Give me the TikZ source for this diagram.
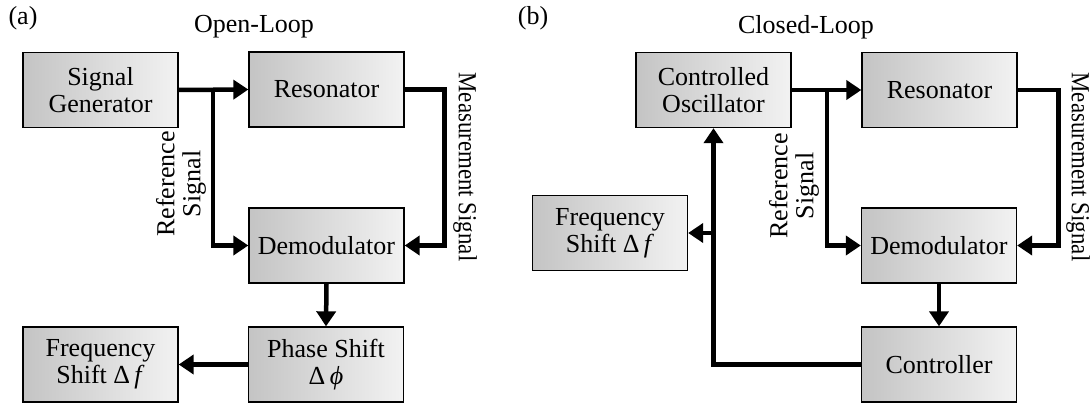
\documentclass[tikz,border=0pt]{standalone}
\usepackage{fontspec}
\setmainfont{Liberation Serif}
\usetikzlibrary{arrows.meta,calc}
\definecolor{boxL}{RGB}{196,196,196}
\definecolor{boxR}{RGB}{242,242,242}
\tikzset{
  blk/.style={draw=black, line width=1.3pt, left color=boxL, right color=boxR,
    minimum width=155pt, minimum height=75pt, inner sep=0pt, align=center,
    font=\fontsize{26}{27}\selectfont},
  wire/.style={line width=4.5pt, line cap=butt, line join=miter},
  arr/.style={wire, -{Triangle[length=15pt,width=19pt]}},
  lbl/.style={font=\fontsize{26}{26}\selectfont, align=center, inner sep=0pt},
  meas/.style={lbl, rotate=-90, xscale=0.88},
}
\begin{document}
\begin{tikzpicture}[x=1pt,y=-1pt]
\useasboundingbox (0,0) rectangle (1092,403);
% titles
\node[lbl] (ta) at (23,18) {(a)};
\node[lbl] (tta) at (254,27) {Open-Loop};
\node[lbl] (tb) at (533,18) {(b)};
\node[lbl] (ttb) at (806,27) {Closed-Loop};
% panel a
\node[blk] (sga) at (100.5,90) {Signal\\Generator};
\node[blk] (resa) at (326.5,89.5) {Resonator};
\node[blk] (dema) at (326.5,245.5) {Demodulator};
\node[blk] (psa) at (326,364.5) {Phase Shift\\Δ\,\textit{ϕ}};
\node[blk] (fsa) at (100.5,364.5) {Frequency\\Shift Δ\,\textit{f}};
\coordinate (ja) at (213,90);
\draw[arr] (sga.east) -- (resa.west);
\draw[arr] (ja) |- (dema.west);
\draw[arr] (resa.east) -- ++(40,0) |- (dema.east);
\draw[arr] (dema.south) -- (psa.north);
\draw[arr] (psa.west) -- (fsa.east);
\node[lbl, rotate=90] (refa) at (181,184) {Reference\\Signal};
\node[meas] (mesa) at (465,167) {Measurement Signal};
% panel b
\node[blk] (cob) at (713.5,90) {Controlled\\Oscillator};
\node[blk] (resb) at (939.5,90) {Resonator};
\node[blk] (demb) at (939,245.5) {Demodulator};
\node[blk] (ctlb) at (939,364.5) {Controller};
\node[blk] (fsb) at (610,233) {Frequency\\Shift Δ\,\textit{f}};
\coordinate (jb) at (827,90);
\draw[arr] (cob.east) -- (resb.west);
\draw[arr] (jb) |- (demb.west);
\draw[arr] (resb.east) -- ++(41,0) |- (demb.east);
\draw[arr] (demb.south) -- (ctlb.north);
\draw[arr] (ctlb.west) -| (cob.south);
\draw[arr] (cob.south |- fsb.east) -- (fsb.east);
\node[lbl, rotate=90] (refb) at (794,186) {Reference\\Signal};
\node[meas] (mesb) at (1078,167) {Measurement Signal};
\end{tikzpicture}
\end{document}
